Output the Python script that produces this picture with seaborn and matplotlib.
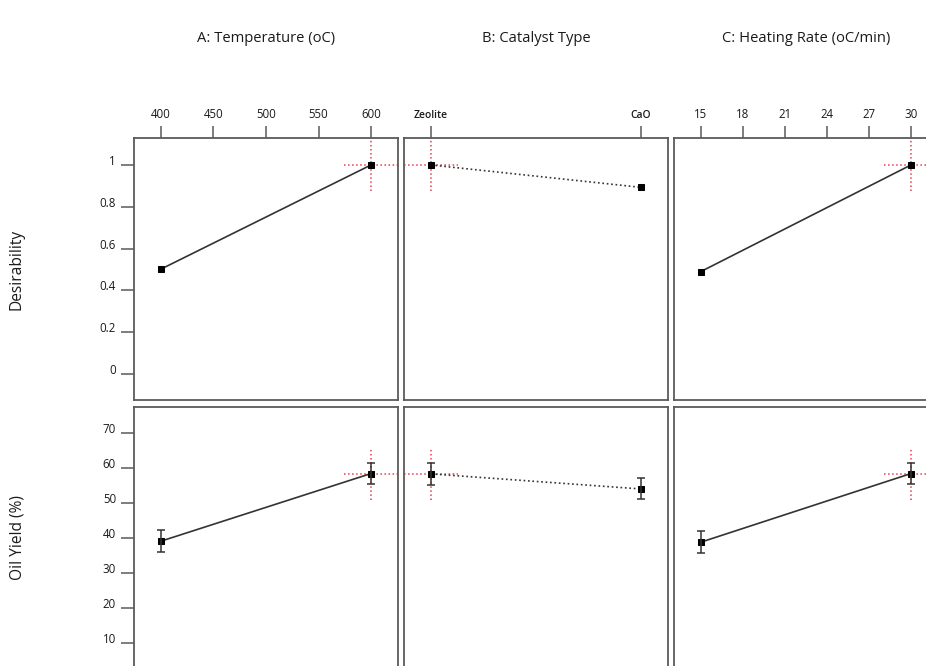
import numpy as np
import pandas as pd
import seaborn as sns
import matplotlib
matplotlib.use("Agg")
import matplotlib.pyplot as plt
from matplotlib import transforms

# ---------------- data ----------------
factor_titles = ["A: Temperature (oC)", "B: Catalyst Type", "C: Heating Rate (oC/min)"]
response_labels = ["Desirability", "Oil Yield (%)"]

temp_levels = [400, 600]
catalyst_levels = ["Zeolite", "CaO"]
rate_levels = [15, 30]

desir_temp = [0.502, 1.0]
desir_catalyst = [1.0, 0.893]
desir_rate = [0.49, 1.0]

yield_temp = [39.1, 58.4]
yield_catalyst = [58.3, 54.0]
yield_rate = [38.8, 58.4]
yield_err_temp = [3.1, 3.1]
yield_err_catalyst = [3.1, 3.0]
yield_err_rate = [3.1, 3.1]

# optimum (red crosshair) settings per factor
opt_temp = 600
opt_catalyst = "Zeolite"
opt_rate = 30
opt_desir = 1.0
opt_yield = 58.4

temp_ticks = [400, 450, 500, 550, 600]
rate_ticks = [15, 18, 21, 24, 27, 30]
desir_ticks = [0, 0.2, 0.4, 0.6, 0.8, 1]
desir_ticklabels = ["0", "0.2", "0.4", "0.6", "0.8", "1"]
yield_ticks = [10, 20, 30, 40, 50, 60, 70]

# ---------------- style ----------------
sns.set_style("white")
plt.rcParams["font.family"] = ["Open Sans", "DejaVu Sans"]

W, H = 926, 666
fig = plt.figure(figsize=(W / 100, H / 100), dpi=100)

col_x = [134, 404, 674]
panel_w = 264
row_top = [138, 407]
panel_h = 262

frame_col = "#5a5a5a"
line_col = "#333333"
red = "#e8404a"
txt_col = "#1a1a1a"

xlims = [(374.3, 625.7), (-0.129, 1.129), (13.09, 31.93)]
ylims = [(-0.124, 1.129), (2.6, 77.4)]

xs = [temp_levels, [0, 1], rate_levels]
opt_x = [opt_temp, catalyst_levels.index(opt_catalyst), opt_rate]
desir_vals = [desir_temp, desir_catalyst, desir_rate]
yield_vals = [yield_temp, yield_catalyst, yield_rate]
yield_errs = [yield_err_temp, yield_err_catalyst, yield_err_rate]

for r in range(2):
    for c in range(3):
        left = col_x[c] / W
        bottom = (H - row_top[r] - panel_h) / H
        ax = fig.add_axes([left, bottom, panel_w / W, panel_h / H])
        ax.set_xlim(*xlims[c])
        ax.set_ylim(*ylims[r])
        for s in ax.spines.values():
            s.set_color(frame_col)
            s.set_linewidth(1.3)

        yv = desir_vals[c] if r == 0 else yield_vals[c]
        df = pd.DataFrame({"x": xs[c], "y": yv})
        ls = ":" if c == 1 else "-"
        sns.lineplot(data=df, x="x", y="y", ax=ax, color=line_col, lw=1.2,
                     linestyle=ls, marker="s", markersize=4.5,
                     markerfacecolor="black", markeredgecolor="black", zorder=3)
        if r == 1:
            ax.errorbar(xs[c], yv, yerr=yield_errs[c], fmt="none",
                        ecolor="#333333", elinewidth=1.1, capsize=3, capthick=1.1, zorder=4)

        # red crosshair at optimum
        oy = opt_desir if r == 0 else opt_yield
        fx = (opt_x[c] - xlims[c][0]) / (xlims[c][1] - xlims[c][0])
        fy = (oy - ylims[r][0]) / (ylims[r][1] - ylims[r][0])
        dx, dy = 27 / panel_w, 26 / panel_h
        ax.plot([fx - dx, fx + dx], [fy, fy], transform=ax.transAxes, color=red,
                ls=":", lw=1.1, zorder=2, clip_on=True)
        ax.plot([fx, fx], [fy - dy, fy + dy], transform=ax.transAxes, color=red,
                ls=":", lw=1.1, zorder=2, clip_on=True)

        ax.set_xlabel("")
        ax.set_ylabel("")

        # x ticks on top of top row only
        if r == 0:
            ax.xaxis.tick_top()
            lsize = 8.3
            if c == 0:
                ax.set_xticks(temp_ticks)
                ax.set_xticklabels([str(t) for t in temp_ticks])
            elif c == 1:
                ax.set_xticks([0, 1])
                ax.set_xticklabels(catalyst_levels, fontweight="semibold")
                lsize = 7.4
            else:
                ax.set_xticks(rate_ticks)
                ax.set_xticklabels([str(t) for t in rate_ticks])
            ax.tick_params(axis="x", top=True, bottom=False, direction="out",
                           length=8.6, width=1.1, color=frame_col, pad=4,
                           labelsize=lsize, labelcolor=txt_col)
            ax.text(0.5, (H - 39 - (H - row_top[r] - panel_h)) / panel_h, factor_titles[c],
                    transform=ax.transAxes, ha="center", va="center",
                    fontsize=10.6, color=txt_col)
        else:
            ax.set_xticks([])

        # y ticks on left column only
        if c == 0:
            if r == 0:
                ax.set_yticks(desir_ticks)
                ax.set_yticklabels(desir_ticklabels)
            else:
                ax.set_yticks(yield_ticks)
                ax.set_yticklabels([str(t) for t in yield_ticks])
            ax.tick_params(axis="y", left=True, direction="out", length=9.4,
                           width=1.1, color=frame_col, pad=3.6, labelsize=8.3,
                           labelcolor=txt_col)
            off = transforms.ScaledTranslation(0, 5 / 100, fig.dpi_scale_trans)
            for lab in ax.get_yticklabels():
                lab.set_transform(lab.get_transform() + off)
            ax.text(17 / W, (H - (row_top[r] + panel_h / 2)) / H, response_labels[r],
                    transform=fig.transFigure, rotation=90, ha="center", va="center",
                    fontsize=11.2, color=txt_col)
        else:
            ax.set_yticks([])

fig.savefig("out.png", dpi=100)
